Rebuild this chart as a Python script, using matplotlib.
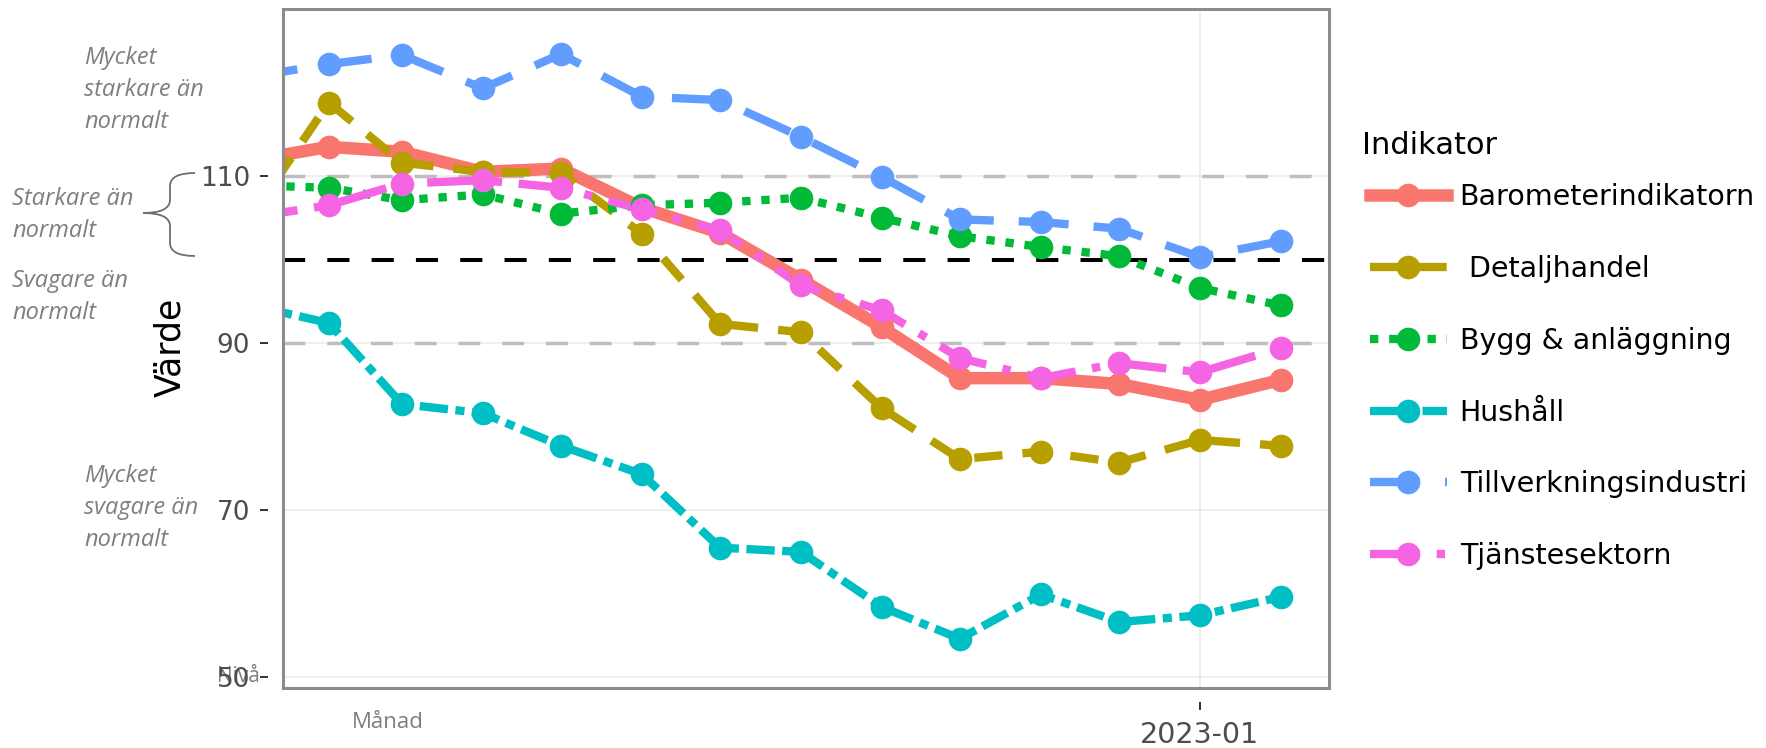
import matplotlib
matplotlib.use("Agg")
import matplotlib.pyplot as plt
import numpy as np
import pandas as pd
from matplotlib.lines import Line2D
from matplotlib.patches import PathPatch, Rectangle
from matplotlib.path import Path

plt.rcParams["font.family"] = ["DejaVu Sans"]

# data (Jan 2022 sits just outside the visible x range)
months = pd.date_range("2022-01-01", "2023-02-01", freq="MS")
barometer = [111.8, 113.5, 112.9, 110.5, 110.9, 106.2, 103.2, 97.6, 91.9, 85.8, 85.8, 85.1, 83.2, 85.6]
detaljhandel = [104.6, 118.8, 111.6, 110.5, 110.4, 103.1, 92.3, 91.3, 82.2, 76.1, 77.0, 75.7, 78.4, 77.7]
bygg = [108.9, 108.6, 107.1, 107.8, 105.5, 106.5, 106.8, 107.4, 105.0, 102.8, 101.5, 100.4, 96.6, 94.5]
hushall = [94.6, 92.4, 82.7, 81.6, 77.7, 74.3, 65.5, 65.0, 58.4, 54.6, 59.9, 56.6, 57.4, 59.6]
tillverkning = [121.8, 123.4, 124.5, 120.5, 124.6, 119.5, 119.1, 114.7, 109.9, 104.8, 104.5, 103.7, 100.3, 102.2]
tjanste = [105.0, 106.5, 109.1, 109.5, 108.6, 106.0, 103.5, 96.9, 93.9, 88.2, 85.8, 87.6, 86.5, 89.4]

labels = ["Barometerindikatorn", " Detaljhandel", "Bygg & anläggning", "Hushåll",
          "Tillverkningsindustri", "Tjänstesektorn"]
series = [barometer, detaljhandel, bygg, hushall, tillverkning, tjanste]
colors = ["#F8766D", "#B79F00", "#00BA38", "#00BFC4", "#619CFF", "#F564E3"]
styles = ["-", (0, (3.4, 2.4)), (0, (1, 1.3)), (0, (3.4, 0.9, 1.1, 0.9)),
          (0, (6, 3)), (0, (6, 2, 1, 2))]
widths = [9, 6, 6, 6, 6, 6]

yticks = [50, 70, 90, 110]
xtick = pd.Timestamp("2023-01-01")

W, H = 1766, 748
fig = plt.figure(figsize=(W / 100, H / 100), dpi=100)


def fx(x):
    return x / W


def fy(y):
    return 1 - y / H


ax = fig.add_axes([fx(283), fy(688), fx(1329 - 283), (688 - 9) / H])
ax.set_xlim(pd.Timestamp("2022-01-14 10:00"), pd.Timestamp("2023-02-19 12:00"))
ax.set_ylim(48.7, 130)
ax.set_axisbelow(True)
ax.grid(True, color="#EBEBEB", lw=1.1)

# reference lines
ax.axhline(110, color="#BEBEBE", lw=2.5, ls=(0, (6.3, 6.3)), zorder=1)
ax.axhline(90, color="#BEBEBE", lw=2.5, ls=(0, (6.3, 6.3)), zorder=1)
ax.axhline(100, color="black", lw=2.9, ls=(0, (5.5, 5.5)), zorder=1)

# lines first, then points (like ggplot layers)
for vals, c, s, w in zip(series, colors, styles, widths):
    ax.plot(months, vals, color=c, ls=s, lw=w, solid_joinstyle="round",
            solid_capstyle="butt", zorder=2)
for vals, c in zip(series, colors):
    ax.plot(months, vals, ls="none", marker="o", ms=16, color=c, zorder=3)

# panel border + ticks detached from it
for sp in ax.spines.values():
    sp.set_visible(False)
ax.spines["left"].set_position(("outward", 10.8))
ax.spines["bottom"].set_position(("outward", 10))
ax.add_patch(Rectangle((0, 0), 1, 1, transform=ax.transAxes, fill=False,
                       edgecolor="#8C8C8C", lw=2.2, clip_on=False, zorder=5))

ax.set_yticks(yticks)
ax.set_yticklabels([str(v) for v in yticks])
ax.set_xticks([xtick])
ax.set_xticklabels(["2023-01"])
ax.tick_params(axis="y", length=5.8, width=1.4, color="#333333", pad=7,
               labelsize=19, labelcolor="#4D4D4D")
ax.tick_params(axis="x", length=5.8, width=1.4, color="#333333", pad=8,
               labelsize=20.5, labelcolor="#4D4D4D")

# legend
handles = [Line2D([], [], color=c, ls=s, lw=w, marker="o", ms=16)
           for c, s, w in zip(colors, styles, widths)]
ax.legend(handles, labels, loc="upper left", bbox_to_anchor=(fx(1370), fy(183)),
          bbox_transform=fig.transFigure, frameon=False, fontsize=20.5,
          handlelength=2.7, handletextpad=0.45, labelspacing=1.54,
          borderpad=0, borderaxespad=0, numpoints=1)
fig.text(fx(1362), fy(145), "Indikator", fontsize=22, color="black", va="center")

# axis texts
fig.text(fx(170), fy(347), "Värde", rotation=90, fontsize=25, color="black",
         ha="center", va="center")
fig.text(fx(388), fy(722), "Månad", fontsize=16, color="#7F7F7F",
         family="Open Sans", ha="center", va="center")
fig.text(fx(238), fy(677), "Nivå", fontsize=15, color="#7F7F7F",
         family="Open Sans", ha="center", va="center", zorder=-1)

# side annotations
note = dict(fontsize=17, color="#7F7F7F", family="Open Sans", style="italic",
            ha="left", va="center", linespacing=1.47)
fig.text(fx(84), fy(90), "Mycket\nstarkare än\nnormalt", **note)
fig.text(fx(12), fy(215), "Starkare än\nnormalt", **note)
fig.text(fx(12), fy(297), "Svagare än\nnormalt", **note)
fig.text(fx(84), fy(508), "Mycket\nsvagare än\nnormalt", **note)

# curly brace next to 100-110
pts = [(195, 173), (170, 173), (170, 186), (170, 200), (170, 213), (143, 213),
       (170, 213), (170, 226), (170, 243), (170, 256), (195, 256)]
codes = [Path.MOVETO, Path.CURVE3, Path.CURVE3, Path.LINETO, Path.CURVE3, Path.CURVE3,
         Path.CURVE3, Path.CURVE3, Path.LINETO, Path.CURVE3, Path.CURVE3]
brace = Path([(fx(x), fy(y)) for x, y in pts], codes)
fig.add_artist(PathPatch(brace, transform=fig.transFigure, fill=False,
                         edgecolor="#6E6E6E", lw=1.3))

fig.savefig("out.png", dpi=100)
